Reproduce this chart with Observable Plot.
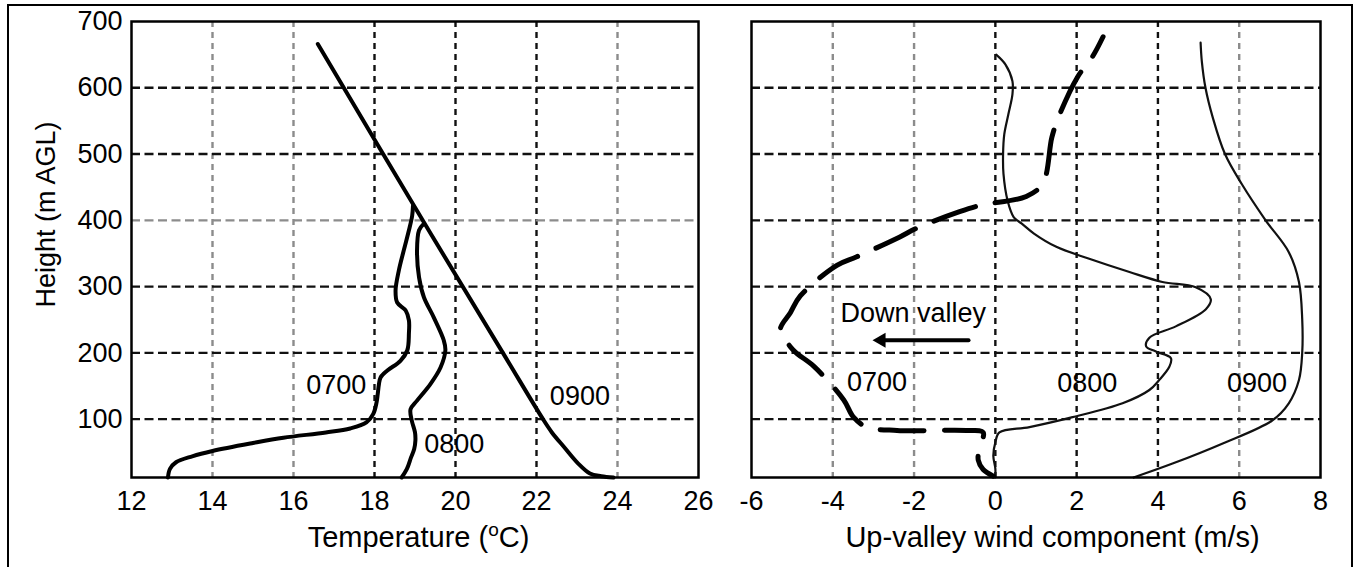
<!DOCTYPE html>
<html><head><meta charset="utf-8">
<script src="https://cdn.jsdelivr.net/npm/d3@7"></script>
<script src="https://cdn.jsdelivr.net/npm/@observablehq/plot@0.6"></script>
<style>
html,body{margin:0;padding:0;background:#fff;}
#wrap{position:relative;width:1360px;height:567px;overflow:hidden;background:#fff;}
#border{position:absolute;left:7px;top:4px;width:1346px;height:600px;border:2.5px solid #000;border-bottom:none;box-sizing:border-box;pointer-events:none;}
#left{position:absolute;left:0;top:0;}
#right{position:absolute;left:720px;top:0;}
</style></head><body>
<div id="wrap"><div id="left"></div><div id="right"></div><div id="border"></div></div>
<script>
// ---------- data: left panel (temperature profiles) ----------
const tempTicks = [12, 14, 16, 18, 20, 22, 24, 26];
const windTicks = [-6, -4, -2, 0, 2, 4, 6, 8];
const heightTicks = [100, 200, 300, 400, 500, 600, 700];
const tempGridDark = [18, 20, 22];
const tempGridLight = [14, 16, 24];
const windGridDark = [0, 2, 4];
const windGridLight = [-4, -2, 6];
const heightGridDarkL = [100, 200, 300, 500, 600];
const heightGridLightL = [400];
const heightGridR = [100, 200, 300, 400, 500, 600];

const t0700 = [12.9, 12.95, 13.1, 13.5, 14.0, 15.0, 15.75, 16.8, 17.4, 17.8, 17.97, 18.05, 18.08, 18.11, 18.15, 18.31, 18.64, 18.81, 18.85, 18.85, 18.77, 18.56, 18.52, 18.6, 18.72, 18.85, 18.93, 18.95];
const h0700 = [12, 25, 35, 44, 52, 64, 72, 80, 86, 95, 108, 125, 138, 153, 163, 173, 188, 204, 230, 249, 264, 276, 294, 324, 354, 385, 407, 422];
const t0800 = [18.67, 18.8, 18.9, 18.98, 19.01, 19.0, 18.92, 18.89, 19.05, 19.38, 19.63, 19.75, 19.71, 19.46, 19.22, 19.1, 19.05, 19.1, 19.22];
const h0800 = [12, 25, 42, 55, 68, 80, 98, 115, 128, 153, 178, 204, 219, 254, 284, 314, 354, 385, 395];
const t0900 = [23.9, 23.6, 23.32, 23.03, 22.68, 22.38, 22.16, 21.17, 19.19, 16.6];
const h0900 = [12, 14, 18, 33, 58, 80, 100, 200, 400, 666];

// ---------- data: right panel (up-valley wind) ----------
const u0700 = [2.65, 2.39, 2.02, 1.55, 1.39, 1.17, 0.76, -0.34, -0.88, -1.94, -2.35, -3.41, -3.9, -4.8, -5.04, -5.29, -5.04, -4.88, -4.47, -3.73, -3.49, -3.16, -2.42, -0.71, -0.3, -0.4, -0.42, -0.3, -0.05];
const w0700 = [677, 647, 616, 555, 525, 456, 436, 423, 413, 388, 375, 345, 332, 286, 261, 235, 209, 199, 180, 129, 103, 88, 83, 83, 80, 55, 38, 24, 14];
const u0800 = [0.02, 0.25, 0.42, 0.42, 0.32, 0.22, 0.19, 0.2, 0.3, 0.45, 0.65, 0.95, 1.5, 2.31, 3.3, 4.11, 4.93, 5.3, 5.18, 4.44, 3.79, 3.71, 3.95, 4.32, 4.28, 4.03, 3.79, 3.13, 1.9, 0.84, 0.1, 0.0, -0.05, 0.0, 0.0];
const w0800 = [650, 635, 610, 590, 560, 530, 500, 470, 430, 405, 395, 380, 360, 342, 322, 307, 299, 281, 266, 240, 223, 210, 202, 192, 179, 159, 144, 124, 103, 88, 80, 65, 45, 25, 12];
const u0900 = [5.05, 5.08, 5.17, 5.35, 5.65, 6.07, 6.65, 7.22, 7.47, 7.55, 7.55, 7.47, 7.22, 6.81, 5.58, 4.36, 3.4];
const w0900 = [668, 640, 600, 555, 500, 454, 400, 352, 307, 251, 200, 159, 124, 98, 63, 33, 12];

// ---------- annotations ----------
const leftLabelText = ["0700", "0800", "0900"];
const leftLabelT = [17.8, 19.23, 22.33];
const leftLabelH = [151, 62, 134];
const rightLabelText = ["0700", "0800", "0900"];
const rightLabelU = [-3.65, 1.52, 5.7];
const rightLabelH = [155, 154, 154];
const noteText = ["Down valley"];
const noteU = [-3.81];
const noteH = [259];
const arrowFromU = [-0.66];
const arrowToU = [-3.02];
const arrowH = [219];

const FONT = '"Liberation Sans", Arial, Helvetica, sans-serif';
const zip = (xs, ys, kx, ky) => xs.map((v, i) => ({[kx]: v, [ky]: ys[i]}));

const vDash = "6,5";
const hDash = "9,4.5";
const gridW = 2.4;

const left = Plot.plot({
  width: 720, height: 567,
  marginLeft: 131, marginRight: 22, marginTop: 21, marginBottom: 90,
  style: {fontFamily: FONT, fontSize: "27px", color: "#000", background: "transparent", overflow: "visible"},
  x: {domain: [12, 26], ticks: tempTicks, tickSize: 0, tickPadding: 13, tickFormat: d => String(d), label: null},
  y: {domain: [12, 700], ticks: heightTicks, tickSize: 0, tickPadding: 9, tickFormat: d => String(d), label: null},
  marks: [
    Plot.ruleX(tempGridLight, {stroke: "#8c8c8c", strokeWidth: gridW, strokeDasharray: vDash}),
    Plot.ruleX(tempGridDark, {stroke: "#111", strokeWidth: gridW, strokeDasharray: vDash}),
    Plot.ruleY(heightGridLightL, {stroke: "#8c8c8c", strokeWidth: gridW, strokeDasharray: hDash}),
    Plot.ruleY(heightGridDarkL, {stroke: "#111", strokeWidth: gridW, strokeDasharray: hDash}),
    Plot.line(zip(t0700, h0700, "t", "h"), {x: "t", y: "h", curve: "catmull-rom", stroke: "#000", strokeWidth: 4}),
    Plot.line(zip(t0800, h0800, "t", "h"), {x: "t", y: "h", curve: "catmull-rom", stroke: "#000", strokeWidth: 4}),
    Plot.line(zip(t0900, h0900, "t", "h"), {x: "t", y: "h", curve: "catmull-rom", stroke: "#000", strokeWidth: 4}),
    Plot.frame({stroke: "#000", strokeWidth: 2.5}),
    Plot.text([0], {x: i => leftLabelT[i], y: i => leftLabelH[i], text: i => leftLabelText[i], textAnchor: "end", fontSize: 27, fill: "#000"}),
    Plot.text([1, 2], {x: i => leftLabelT[i], y: i => leftLabelH[i], text: i => leftLabelText[i], textAnchor: "start", fontSize: 27, fill: "#000"}),
    Plot.text(["Height (m AGL)"], {frameAnchor: "left", textAnchor: "middle", lineAnchor: "middle", rotate: -90, dx: -85, dy: -35, fontSize: 27, fill: "#000"}),
    Plot.text(["Temperature (oC)"], {frameAnchor: "bottom", textAnchor: "middle", lineAnchor: "middle", dy: 60, dx: 3.5, fontSize: 29, fill: "#000"})
  ]
});

const right = Plot.plot({
  width: 640, height: 567,
  marginLeft: 31, marginRight: 40, marginTop: 21, marginBottom: 90,
  style: {fontFamily: FONT, fontSize: "27px", color: "#000", background: "transparent", overflow: "visible"},
  x: {domain: [-6, 8], ticks: windTicks, tickSize: 0, tickPadding: 13, tickFormat: d => String(d), label: null},
  y: {domain: [12, 700], axis: null},
  marks: [
    Plot.ruleX(windGridLight, {stroke: "#8c8c8c", strokeWidth: gridW, strokeDasharray: vDash}),
    Plot.ruleX(windGridDark, {stroke: "#111", strokeWidth: gridW, strokeDasharray: vDash}),
    Plot.ruleY(heightGridR, {stroke: "#111", strokeWidth: gridW, strokeDasharray: hDash}),
    Plot.line(zip(u0800, w0800, "u", "h"), {x: "u", y: "h", curve: "catmull-rom", stroke: "#111", strokeWidth: 2.2}),
    Plot.line(zip(u0900, w0900, "u", "h"), {x: "u", y: "h", curve: "catmull-rom", stroke: "#111", strokeWidth: 2.2}),
    Plot.line(zip(u0700, w0700, "u", "h"), {x: "u", y: "h", curve: "catmull-rom", stroke: "#000", strokeWidth: 5, strokeDasharray: "44,20", strokeDashoffset: 22}),
    Plot.frame({stroke: "#000", strokeWidth: 2.5}),
    Plot.text([0, 1, 2], {x: i => rightLabelU[i], y: i => rightLabelH[i], text: i => rightLabelText[i], textAnchor: "start", fontSize: 27, fill: "#000"}),
    Plot.text([0], {x: i => noteU[i], y: i => noteH[i], text: i => noteText[i], textAnchor: "start", fontSize: 27, fill: "#000"}),
    Plot.arrow([0], {x1: i => arrowFromU[i], x2: i => arrowToU[i], y1: i => arrowH[i], y2: i => arrowH[i], headLength: 0, insetEnd: 9, stroke: "#000", strokeWidth: 4}),
    Plot.dot([0], {x: i => arrowToU[i], y: i => arrowH[i], symbol: "triangle", r: 5.6, rotate: -90, dx: 8.6, fill: "#000", stroke: "none"}),
    Plot.text(["Up-valley wind component (m/s)"], {frameAnchor: "bottom", textAnchor: "middle", lineAnchor: "middle", dy: 60, dx: 16.5, fontSize: 29, fill: "#000"})
  ]
});

document.getElementById("left").appendChild(left);
document.getElementById("right").appendChild(right);

// superscript "o" in the temperature unit
d3.select(left).selectAll("text").filter(function () { return this.textContent === "Temperature (oC)"; })
  .each(function () {
    const t = d3.select(this);
    t.text(null);
    t.append("tspan").text("Temperature (");
    t.append("tspan").attr("dy", -11).attr("font-size", 19).text("o");
    t.append("tspan").attr("dy", 11).text("C)");
  });
</script>
</body></html>
